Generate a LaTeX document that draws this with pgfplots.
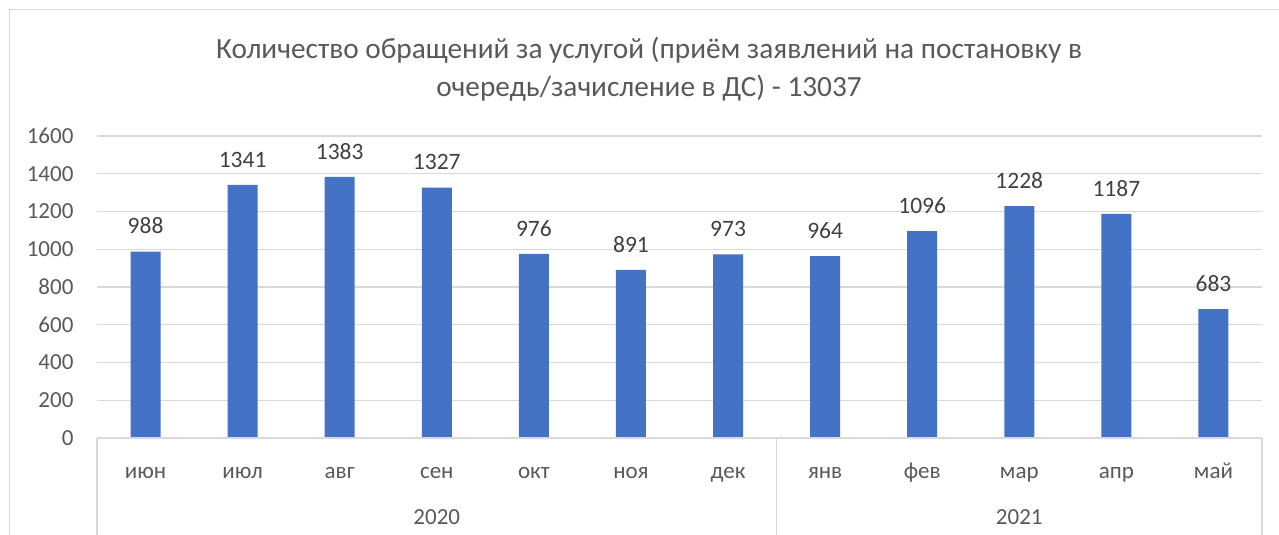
\documentclass[border=0pt]{standalone}
\usepackage{pgfplots}
\pgfplotsset{compat=1.18}
\usepackage{fontspec}
\setmainfont{Carlito}
\definecolor{barblue}{HTML}{4472C4}
\definecolor{gridgray}{HTML}{D9D9D9}
\definecolor{ticktxt}{HTML}{595959}
\definecolor{lbltxt}{HTML}{404040}
\begin{document}
\begin{tikzpicture}
\useasboundingbox (0pt,0pt) rectangle (1279pt,535pt);
\draw[gridgray, line width=1pt] (9pt,0pt) -- (9pt,525pt) -- (1290pt,525pt);
\node[text=ticktxt, align=center, font=\fontsize{29.3}{38}\selectfont] at (649pt,466pt)
  {Количество обращений за услугой (приём заявлений на постановку в\\очередь/зачисление в ДС) - 13037};
\begin{axis}[
  at={(97pt,97pt)}, anchor=south west,
  scale only axis, width=1165pt, height=302pt,
  xmin=-0.5, xmax=11.5, ymin=0, ymax=1600,
  ybar, bar width=30pt,
  axis line style={draw=none},
  tick style={draw=none},
  ytick={0,200,...,1600},
  ymajorgrids, grid style={gridgray, line width=1.2pt},
  xtick={0,...,11},
  xticklabels={июн,июл,авг,сен,окт,ноя,дек,янв,фев,мар,апр,май},
  x tick label style={anchor=base, yshift=-36pt},
  ticklabel style={text=ticktxt, font=\fontsize{23}{28}\selectfont},
  /pgf/number format/assume math mode=true,
  /pgf/number format/set thousands separator={},
  y tick label style={anchor=east, xshift=-20pt},
  nodes near coords,
  nodes near coords style={text=lbltxt, font=\fontsize{23.5}{28}\selectfont, yshift=14pt, /pgf/number format/set thousands separator={}},
  clip=false,
]
\addplot[fill=barblue, draw=none] coordinates {
(0,988) (1,1341) (2,1383) (3,1327) (4,976) (5,891) (6,973) (7,964) (8,1096) (9,1228) (10,1187) (11,683)};
\draw[gridgray, line width=1.2pt] (axis cs:-0.5,0) -- (axis cs:11.5,0);
\draw[gridgray, line width=1.2pt] (axis cs:-0.5,0) -- ([yshift=-100pt]axis cs:-0.5,0);
\draw[gridgray, line width=1.2pt] (axis cs:6.5,0) -- ([yshift=-100pt]axis cs:6.5,0);
\draw[gridgray, line width=1.2pt] (axis cs:11.5,0) -- ([yshift=-100pt]axis cs:11.5,0);
\node[text=ticktxt, font=\fontsize{23}{28}\selectfont] at ([yshift=-79pt]axis cs:3,0) {2020};
\node[text=ticktxt, font=\fontsize{23}{28}\selectfont] at ([yshift=-79pt]axis cs:9,0) {2021};
\end{axis}
\end{tikzpicture}
\end{document}
